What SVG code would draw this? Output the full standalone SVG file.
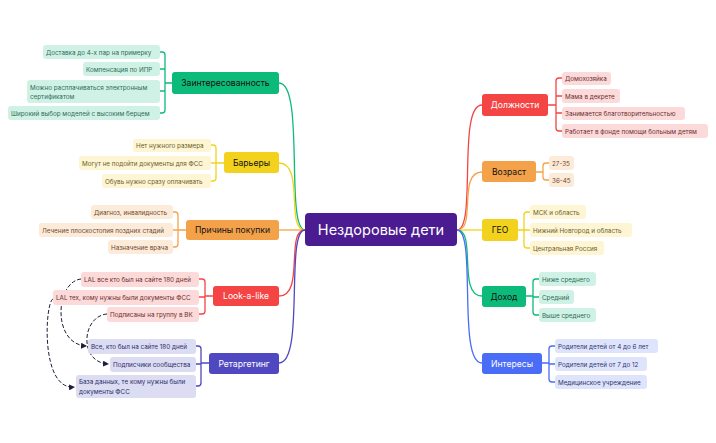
<svg xmlns="http://www.w3.org/2000/svg" width="716" height="443" viewBox="0 0 716 443">
<defs>
<marker id="ah" markerWidth="6" markerHeight="6" refX="5" refY="3" orient="auto" markerUnits="userSpaceOnUse"><path d="M0,0 L6,3 L0,6 z" fill="#1e1e3c"/></marker>
<style>
text{font-family:Inter,"Liberation Sans",sans-serif}
.l{font-size:6.3px}
.m{font-size:8.6px;text-anchor:middle}
.c{fill:none;stroke-width:1.3}
.d{fill:none;stroke:#1e1e3c;stroke-width:1;stroke-dasharray:4 2}
</style>
</defs>
<rect width="716" height="443" fill="#fff"/>
<g id="connectors">
<path class="c" stroke="#0cbb7a" d="M305,230 C285,230 305,83 279,83"/>
<path class="c" stroke="#f2d21c" d="M305,230 C285,230 305,163 279,163"/>
<path class="c" stroke="#f4a24a" d="M305,230 L279,230"/>
<path class="c" stroke="#f44444" d="M305,230 C285,230 305,296 279,296"/>
<path class="c" stroke="#5048c0" d="M305,230 C285,230 305,363 279,363"/>
<path class="c" stroke="#f44444" d="M457,230 C477,230 457,105 482,105"/>
<path class="c" stroke="#f4a24a" d="M457,230 C477,230 457,172 482,172"/>
<path class="c" stroke="#f2d21c" d="M457,230 L482,230"/>
<path class="c" stroke="#0cbb7a" d="M457,230 C477,230 457,296 482,296"/>
<path class="c" stroke="#4a6cf7" d="M457,230 C477,230 457,363 482,363"/>
<path class="c" stroke="#0cbb7a" d="M172,83 H165 M160,52 H162 Q165,52 165,55 V110 Q165,113 162,113 H160 M160,69 H165 M160,91 H165"/>
<path class="c" stroke="#f2d21c" d="M224,163 H216 M211,145 H213 Q216,145 216,148 V178 Q216,181 213,181 H211 M211,163 H216"/>
<path class="c" stroke="#f4a24a" d="M186,230 H178 M173,212 H175 Q178,212 178,215 V244 Q178,247 175,247 H173 M173,230 H178"/>
<path class="c" stroke="#f44444" d="M213,296 H205 M199,279 H202 Q205,279 205,282 V311 Q205,314 202,314 H199 M199,297 H205"/>
<path class="c" stroke="#5048c0" d="M209,363 H201 M196,346 H198 Q201,346 201,349 V383 Q201,386 198,386 H196 M196,364 H201"/>
<path class="c" stroke="#f44444" d="M548,105 H556 M562,78 H559 Q556,78 556,81 V128 Q556,131 559,131 H562 M562,96 H556 M562,113 H556"/>
<path class="c" stroke="#f4a24a" d="M536,172 H543 M549,163 H546 Q543,163 543,166 V177 Q543,180 546,180 H549"/>
<path class="c" stroke="#f2d21c" d="M518,230 H524 M530,212 H527 Q524,212 524,215 V245 Q524,248 527,248 H530 M530,230 H524"/>
<path class="c" stroke="#0cbb7a" d="M526,296 H533 M539,279 H536 Q533,279 533,282 V312 Q533,315 536,315 H539 M539,297 H533"/>
<path class="c" stroke="#4a6cf7" d="M542,363 H549 M555,346 H552 Q549,346 549,349 V379 Q549,382 552,382 H555 M555,364 H549"/>
<path class="d" marker-end="url(#ah)" d="M81,279 C55,282 52,344 86,346"/>
<path class="d" marker-end="url(#ah)" d="M107,314 C82,316 78,362 108,364"/>
<path class="d" marker-end="url(#ah)" d="M53,299 C45,302 40,390 74,387"/>
</g>
<g id="center"><rect x="305" y="213" width="152" height="33" rx="4" fill="#4b1c91"/><text x="381" y="235" font-size="14.5" text-anchor="middle" fill="#fff">Нездоровые дети</text></g>

<g id="n-zain"><rect x="172" y="72" width="107" height="22" rx="3" fill="#0cbb7a"/><text class="m" x="225.5" y="86" fill="#111">Заинтересованность</text></g>
<g id="n-bar"><rect x="224" y="152" width="55" height="21" rx="3" fill="#f2d21c"/><text class="m" x="251.5" y="165.5" fill="#111">Барьеры</text></g>
<g id="n-prich"><rect x="186" y="220" width="93" height="20" rx="3" fill="#f4a24a"/><text class="m" x="232.5" y="233" fill="#111">Причины покупки</text></g>
<g id="n-lal"><rect x="213" y="286" width="66" height="20" rx="3" fill="#f44444"/><text class="m" x="246" y="299" fill="#fff">Look-a-like</text></g>
<g id="n-ret"><rect x="209" y="353" width="70" height="21" rx="3" fill="#5048c0"/><text class="m" x="244" y="366.5" fill="#fff">Ретаргетинг</text></g>
<g id="n-dolzh"><rect x="482" y="94" width="66" height="22" rx="3" fill="#f44444"/><text class="m" x="515" y="108" fill="#fff">Должности</text></g>
<g id="n-vozr"><rect x="482" y="161" width="54" height="21" rx="3" fill="#f4a24a"/><text class="m" x="509" y="174.5" fill="#111">Возраст</text></g>
<g id="n-geo"><rect x="482" y="219" width="36" height="22" rx="3" fill="#f2d21c"/><text class="m" x="500" y="233" fill="#111">ГЕО</text></g>
<g id="n-doh"><rect x="482" y="286" width="44" height="21" rx="3" fill="#0cbb7a"/><text class="m" x="504" y="299.5" fill="#111">Доход</text></g>
<g id="n-int"><rect x="482" y="353" width="60" height="21" rx="3" fill="#4a6cf7"/><text class="m" x="512" y="366.5" fill="#fff">Интересы</text></g>

<g id="leaves-zain" fill="#d0f2e6">
<rect x="43" y="45" width="117" height="14" rx="3"/><rect x="83" y="62" width="77" height="14" rx="3"/><rect x="27" y="80" width="133" height="23" rx="3"/><rect x="8" y="106" width="152" height="14" rx="3"/>
<g fill="#2e6b55"><text class="l" x="46" y="54.5">Доставка до 4-х пар на примерку</text><text class="l" x="86" y="71.5">Компенсация по ИПР</text><text class="l" x="30" y="89.5">Можно расплачиваться электронным</text><text class="l" x="30" y="98.5">сертификатом</text><text class="l" x="11" y="115.5">Широкий выбор моделей с высоким берцем</text></g>
</g>
<g id="leaves-bar" fill="#fdf5d3">
<rect x="133" y="139" width="78" height="13" rx="3"/><rect x="79" y="156" width="132" height="14" rx="3"/><rect x="102" y="174" width="109" height="14" rx="3"/>
<g fill="#6b5e2a"><text class="l" x="136" y="148">Нет нужного размера</text><text class="l" x="82" y="165.5">Могут не подойти документы для ФСС</text><text class="l" x="105" y="183.5">Обувь нужно сразу оплачивать</text></g>
</g>
<g id="leaves-prich" fill="#fdebd9">
<rect x="91" y="205" width="82" height="14" rx="3"/><rect x="39" y="223" width="134" height="14" rx="3"/><rect x="108" y="240" width="65" height="14" rx="3"/>
<g fill="#6b4a2e"><text class="l" x="94" y="214.5">Диагноз, инвалидность</text><text class="l" x="42" y="232.5">Лечение плоскостопия поздних стадий</text><text class="l" x="111" y="249.5">Назначение врача</text></g>
</g>
<g id="leaves-lal" fill="#fcdada">
<rect x="81" y="272" width="118" height="15" rx="3"/><rect x="53" y="290" width="146" height="15" rx="3"/><rect x="107" y="307" width="92" height="15" rx="3"/>
<g fill="#6b2e2e"><text class="l" x="84" y="282">LAL все кто был на сайте 180 дней</text><text class="l" x="56" y="300">LAL тех, кому нужны были документы ФСС</text><text class="l" x="110" y="317">Подписаны на группу в ВК</text></g>
</g>
<g id="leaves-ret" fill="#dcdcf2">
<rect x="88" y="339" width="108" height="15" rx="3"/><rect x="110" y="357" width="86" height="15" rx="3"/><rect x="76" y="375" width="120" height="23" rx="3"/>
<g fill="#2e2e6b"><text class="l" x="91" y="349">Все, кто был на сайте 180 дней</text><text class="l" x="113" y="367">Подписчики сообщества</text><text class="l" x="79" y="384">База данных, те кому нужны были</text><text class="l" x="79" y="393.5">документы ФСС</text></g>
</g>
<g id="leaves-dolzh" fill="#fcdada">
<rect x="562" y="72" width="49" height="13" rx="3"/><rect x="562" y="89" width="58" height="14" rx="3"/><rect x="562" y="107" width="123" height="13" rx="3"/><rect x="562" y="124" width="146" height="14" rx="3"/>
<g fill="#6b2e2e"><text class="l" x="565" y="81">Домохозяйка</text><text class="l" x="565" y="98.5">Мама в декрете</text><text class="l" x="565" y="116">Занимается благотворительностью</text><text class="l" x="565" y="133.5">Работает в фонде помощи больным детям</text></g>
</g>
<g id="leaves-vozr" fill="#fdebd9">
<rect x="549" y="156" width="25" height="14" rx="3"/><rect x="549" y="173" width="25" height="14" rx="3"/>
<g fill="#6b4a2e"><text class="l" x="552" y="165.5">27-35</text><text class="l" x="552" y="182.5">36-45</text></g>
</g>
<g id="leaves-geo" fill="#fdf5d3">
<rect x="530" y="205" width="56" height="14" rx="3"/><rect x="530" y="223" width="102" height="14" rx="3"/><rect x="530" y="241" width="74" height="14" rx="3"/>
<g fill="#6b5e2a"><text class="l" x="533" y="214.5">МСК и область</text><text class="l" x="533" y="232.5">Нижний Новгород и область</text><text class="l" x="533" y="250.5">Центральная Россия</text></g>
</g>
<g id="leaves-doh" fill="#d0f2e6">
<rect x="539" y="272" width="57" height="14" rx="3"/><rect x="539" y="290" width="35" height="14" rx="3"/><rect x="539" y="308" width="57" height="14" rx="3"/>
<g fill="#2e6b55"><text class="l" x="542" y="281.5">Ниже среднего</text><text class="l" x="542" y="299.5">Средний</text><text class="l" x="542" y="317.5">Выше среднего</text></g>
</g>
<g id="leaves-int" fill="#dfe4fd">
<rect x="555" y="339" width="103" height="14" rx="3"/><rect x="555" y="357" width="92" height="14" rx="3"/><rect x="555" y="375" width="92" height="14" rx="3"/>
<g fill="#2e356b"><text class="l" x="558" y="348.5">Родители детей от 4 до 6 лет</text><text class="l" x="558" y="366.5">Родители детей от 7 до 12</text><text class="l" x="558" y="384.5">Медицинское учреждение</text></g>
</g>
</svg>
